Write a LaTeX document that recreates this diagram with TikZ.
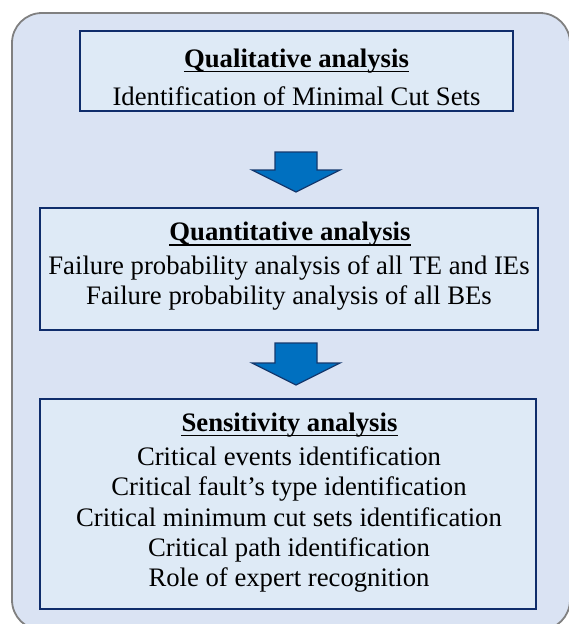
\documentclass[tikz,border=0pt]{standalone}
\usepackage{fontspec}
\setmainfont{Liberation Serif}
\definecolor{panelfill}{HTML}{DAE3F3}
\definecolor{panelline}{HTML}{808080}
\definecolor{boxfill}{HTML}{DEEAF6}
\definecolor{boxline}{HTML}{0F2D6B}
\definecolor{arrowfill}{HTML}{0070C0}
\definecolor{arrowline}{HTML}{14396E}
\tikzset{
  panel/.style={draw=panelline, fill=panelfill, line width=1.8pt, rounded corners=30pt},
  stagebox/.style={draw=boxline, fill=boxfill, line width=2pt, inner sep=0pt},
  txt/.style={inner sep=0pt, anchor=base, font=\fontsize{26.7}{30}\selectfont},
  heading/.style={txt, font=\fontsize{26.7}{30}\selectfont\bfseries},
  uline/.style={line width=1.8pt, black},
  blockarrow/.style={draw=arrowline, fill=arrowfill, line width=1.3pt, line join=miter},
}
\begin{document}
\begin{tikzpicture}[x=1pt, y=-1pt]
\useasboundingbox (0,0) rectangle (569,624);
\clip (0,0) rectangle (569,624);

% outer rounded panel
\draw[panel] (12,13) rectangle (570,630);

% the three stage boxes
\node[stagebox, minimum width=433pt, minimum height=80pt] (qual) at (296.5,71) {};
\node[stagebox, minimum width=498pt, minimum height=122pt] (quant) at (289,269) {};
\node[stagebox, minimum width=496pt, minimum height=210pt] (sens) at (288,504) {};

% qualitative stage
\node[heading] (qualT) at (296.5,67) {Qualitative analysis};
\draw[uline] ([yshift=-4.5pt]qualT.base west) -- ([yshift=-4.5pt]qualT.base east);
\node[txt] (qual1) at (296.5,105) {Identification of Minimal Cut Sets};

% quantitative stage
\node[heading] (quantT) at (290,240.5) {Quantitative analysis};
\draw[uline] ([yshift=-4.5pt]quantT.base west) -- ([yshift=-4.5pt]quantT.base east);
\node[txt] (quant1) at (289,274.5) {Failure probability analysis of all TE and IEs};
\node[txt] (quant2) at (289,304.5) {Failure probability analysis of all BEs};

% sensitivity stage
\node[heading] (sensT) at (289.5,431) {Sensitivity analysis};
\draw[uline] ([yshift=-4.5pt]sensT.base west) -- ([yshift=-4.5pt]sensT.base east);
\node[txt] (sens1) at (289,465.5) {Critical events identification};
\node[txt] (sens2) at (289,495.5) {Critical fault's type identification};
\node[txt] (sens3) at (289,526.5) {Critical minimum cut sets identification};
\node[txt] (sens4) at (289,556.5) {Critical path identification};
\node[txt] (sens5) at (289,586.5) {Role of expert recognition};

% block arrows between the stages
\coordinate (a1) at (296,152);
\coordinate (a2) at (296,343);
\foreach \c/\h in {a1/18, a2/20}{
  \draw[blockarrow] ([xshift=-21pt]\c) -- ([xshift=21pt]\c)
    -- ([xshift=21pt,yshift=-\h pt]\c) -- ([xshift=44pt,yshift=-\h pt]\c)
    -- ([yshift=-\h pt-22pt]\c) -- ([xshift=-44pt,yshift=-\h pt]\c)
    -- ([xshift=-21pt,yshift=-\h pt]\c) -- cycle;
}
\end{tikzpicture}
\end{document}
